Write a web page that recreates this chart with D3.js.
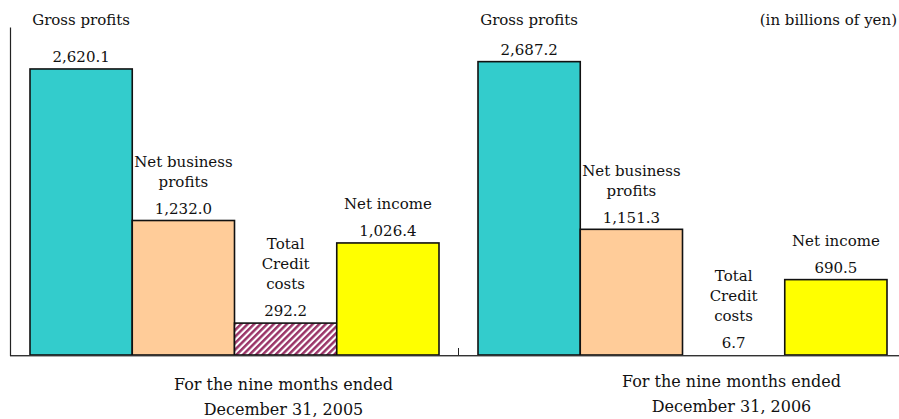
<!DOCTYPE html>
<html>
<head>
<meta charset="utf-8">
<script src="https://cdn.jsdelivr.net/npm/d3@7/dist/d3.min.js"></script>
<style>
html,body{margin:0;padding:0;background:#fff;}
svg{display:block;}
text{font-family:"DejaVu Serif","Liberation Serif",serif;fill:#111;}
</style>
</head>
<body>
<svg id="chart" width="899" height="419"></svg>
<script>
// ---- data ----
const periods = ["2005", "2006"];
const periodLabels = [["For the nine months ended", "December 31, 2005"], ["For the nine months ended", "December 31, 2006"]];
const metrics = ["Gross profits", "Net business profits", "Total Credit costs", "Net income"];
const metricLabelLines = [["Gross profits"], ["Net business", "profits"], ["Total", "Credit", "costs"], ["Net income"]];
const values2005 = [2620.1, 1232.0, 292.2, 1026.4];
const values2006 = [2687.2, 1151.3, 6.7, 690.5];
const unitLabel = "(in billions of yen)";

const seriesByPeriod = [values2005, values2006];
const colors = ["#33CCCC", "#FFCC99", "url(#hatch)", "#FFFF00"];

const svg = d3.select("#chart");
const W = 899, H = 419;
const baseY = 355;

const defs = svg.append("defs");
const pat = defs.append("pattern").attr("id", "hatch").attr("patternUnits", "userSpaceOnUse")
  .attr("width", 4.6).attr("height", 4.6).attr("patternTransform", "rotate(45)");
pat.append("rect").attr("width", 4.6).attr("height", 4.6).attr("fill", "#ffffff");
pat.append("rect").attr("width", 2.5).attr("height", 4.6).attr("fill", "#993366");

const y = d3.scaleLinear().domain([0, 3000]).range([baseY, 27.5]);
const x0 = d3.scaleBand().domain(periods).range([30, 887]).paddingInner(39 / 448);
const x1 = d3.scaleBand().domain(metrics).range([0, x0.bandwidth()]);

const fmt = d3.format(",.1f");

periods.forEach((p, pi) => {
  const g = svg.append("g").attr("transform", `translate(${x0(p)},0)`);
  const vals = seriesByPeriod[pi];
  metrics.forEach((m, mi) => {
    const v = vals[mi];
    const bx = x1(m), bw = x1.bandwidth();
    const h = baseY - y(v);
    g.append("rect").attr("x", bx).attr("y", y(v)).attr("width", bw).attr("height", h)
      .attr("fill", h >= 2 ? colors[mi] : "none")
      .attr("stroke", h >= 2 ? "#111" : "none").attr("stroke-width", 1.6);
    const cx = bx + bw / 2;
    const valY = y(v) - 12;
    g.append("text").attr("x", cx).attr("y", valY).attr("dy", "0.35em").attr("text-anchor", "middle")
      .attr("font-size", 15).text(fmt(v));
    const lines = metricLabelLines[mi];
    lines.forEach((ln, li) => {
      let ly = valY - 27 - (lines.length - 1 - li) * 20;
      if (mi === 0) ly = 20;
      g.append("text").attr("x", cx).attr("y", ly).attr("dy", "0.35em").attr("text-anchor", "middle")
        .attr("font-size", 15).text(ln);
    });
  });
  const gc = x0.bandwidth() / 2 + 49;
  periodLabels[pi].forEach((ln, li) => {
    g.append("text").attr("x", gc).attr("y", 384 + li * 25 - pi * 3).attr("dy", "0.35em").attr("text-anchor", "middle")
      .attr("font-size", 16).text(ln);
  });
});

// axis lines
svg.append("line").attr("x1", 10).attr("x2", W).attr("y1", baseY + 1.5).attr("y2", baseY + 1.5)
  .attr("stroke", "#aaa").attr("stroke-width", 1);
svg.append("line").attr("x1", 10).attr("x2", W).attr("y1", baseY + 0.5).attr("y2", baseY + 0.5)
  .attr("stroke", "#333").attr("stroke-width", 1);
svg.append("line").attr("x1", 10.5).attr("x2", 10.5).attr("y1", y(3000)).attr("y2", baseY + 1)
  .attr("stroke", "#222").attr("stroke-width", 1.2);
const midX = (x0("2005") + x0.bandwidth() + x0("2006")) / 2;
svg.append("line").attr("x1", midX).attr("x2", midX).attr("y1", baseY - 7).attr("y2", baseY)
  .attr("stroke", "#222").attr("stroke-width", 1);

svg.append("text").attr("x", 897).attr("y", 20).attr("dy", "0.35em").attr("text-anchor", "end")
  .attr("font-size", 15).text(unitLabel);
</script>
</body>
</html>
